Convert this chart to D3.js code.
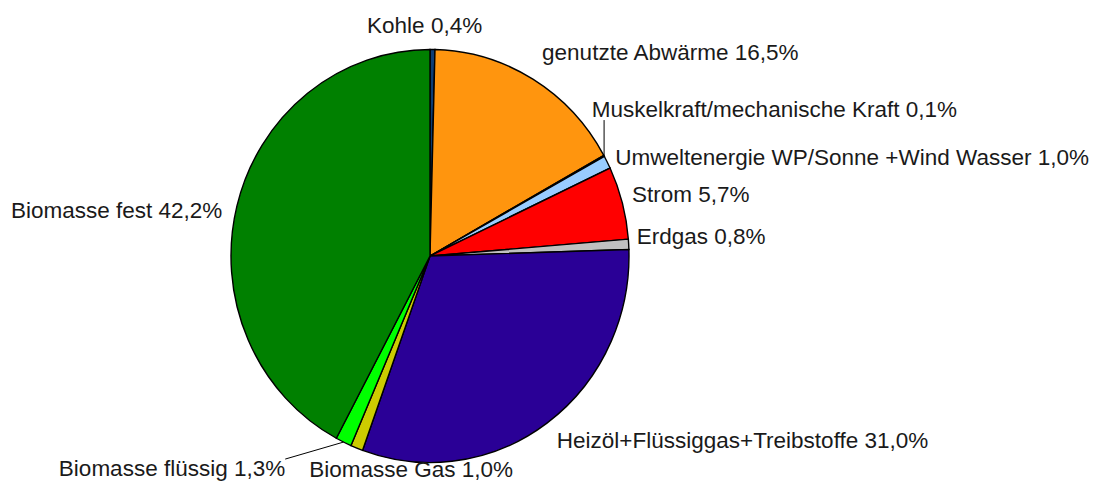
<!DOCTYPE html>
<html>
<head>
<meta charset="utf-8">
<script src="https://cdn.jsdelivr.net/npm/d3@7"></script>
<style>
  body { margin: 0; background: #fff; }
  text { font-family: "Liberation Sans", Arial, sans-serif; font-size: 22.5px; fill: #1a1a1a; }
</style>
</head>
<body>
<div id="chart"></div>
<script>
// data (percent shares, clockwise from 12 o'clock)
const categories = ["Kohle", "genutzte Abwärme", "Muskelkraft/mechanische Kraft",
    "Umweltenergie WP/Sonne +Wind Wasser", "Strom", "Erdgas",
    "Heizöl+Flüssiggas+Treibstoffe", "Biomasse Gas", "Biomasse flüssig", "Biomasse fest"];
const shares = [0.4, 16.5, 0.1, 1.0, 5.7, 0.8, 31.0, 1.0, 1.3, 42.2];
const colors = ["#0e3d75", "#ff950e", "#ffd320", "#99ccff", "#ff0000", "#c0c0c0",
    "#2a0096", "#cccc00", "#00ff00", "#008000"];
const withLeader = ["Muskelkraft/mechanische Kraft", "Biomasse flüssig"];

// small label shifts to avoid collisions (like the original layout)
const nudges = [[-8, -1], [4, -6], [-21, -36], [-1, 5.5], [0, 0], [-2, -2], [4, -3], [58, 0], [-54, 5], [-5, 12.5]];

function drawPie() {
    const width = 1094, height = 484;
    const cx = 430, cy = 256, r = 199, stretch = 1.038;

    const svg = d3.select("#chart")
        .append("svg")
        .attr("width", width)
        .attr("height", height);

    const de = d3.formatLocale({decimal: ",", thousands: ".", grouping: [3], currency: ["", " €"]});
    const fmt = de.format(".1f");

    const data = categories.map(function (c, i) { return {name: c, value: shares[i], color: colors[i], i: i}; });

    const pie = d3.pie().sort(null).value(function (d) { return d.value; });
    const arcs = pie(data);
    const arc = d3.arc().innerRadius(0).outerRadius(r);

    // slices
    svg.append("g")
        .attr("transform", "translate(" + cx + "," + cy + ") scale(1," + stretch + ")")
        .selectAll("path")
        .data(arcs)
        .enter()
        .append("path")
        .attr("d", arc)
        .attr("fill", function (d) { return d.data.color; })
        .attr("stroke", "#000")
        .attr("stroke-width", 1.4)
        .attr("vector-effect", "non-scaling-stroke");

    // labels
    const pad = 10;
    const lg = svg.append("g");
    arcs.forEach(function (d) {
        const a = (d.startAngle + d.endAngle) / 2;
        const s = Math.sin(a), c = Math.cos(a);
        const ex = cx + r * s, ey = cy - r * stretch * c;
        const ax = ex + pad * s, ay = ey - pad * c;
        let anchor = "middle";
        if (s > 0.4) anchor = "start";
        if (s < -0.4) anchor = "end";
        let base;
        if (c > 0.7) base = ay - 5;
        else if (c < -0.7) base = ay + 20;
        else base = ay + 2;
        const n = nudges[d.data.i];
        const t = lg.append("text")
            .attr("x", ax + n[0])
            .attr("y", base + n[1])
            .attr("text-anchor", anchor)
            .text(d.data.name + " " + fmt(d.data.value) + "%");

        if (withLeader.indexOf(d.data.name) >= 0) {
            const b = t.node().getBBox();
            const top = b.y + 3, bottom = b.y + b.height - 2;
            const px = Math.max(b.x, Math.min(ex, b.x + b.width));
            const py = Math.max(top, Math.min(ey, bottom));
            lg.append("line")
                .attr("x1", ex).attr("y1", ey)
                .attr("x2", px).attr("y2", py)
                .attr("stroke", "#000")
                .attr("stroke-width", 1);
        }
    });
}

drawPie();
</script>
</body>
</html>
